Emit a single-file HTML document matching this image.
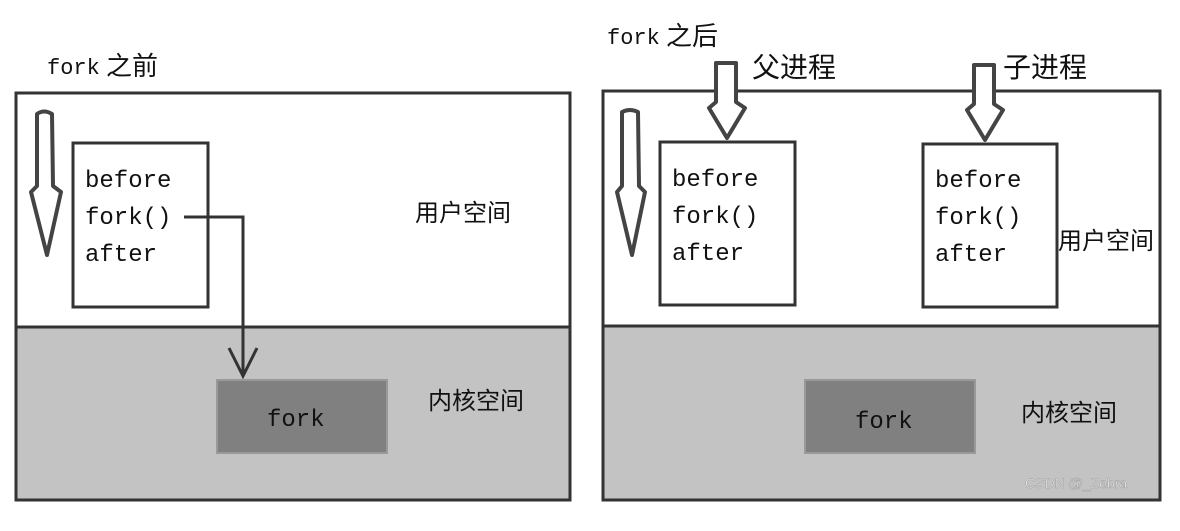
<!DOCTYPE html>
<html><head><meta charset="utf-8"><style>
html,body{margin:0;padding:0;background:#fff;}
svg{display:block;}
.m{font-family:"Liberation Mono","DejaVu Sans Mono",monospace;fill:#111;}
.c{font-family:"Liberation Sans","Noto Sans CJK SC",sans-serif;fill:#111;}
</style></head><body>
<svg width="1180" height="531" viewBox="0 0 1180 531" xmlns="http://www.w3.org/2000/svg">
<!-- LEFT PANEL -->
<rect x="16" y="327" width="554" height="173" fill="#c3c3c3"/>
<rect x="16" y="93" width="554" height="407" fill="none" stroke="#333" stroke-width="3"/>
<line x1="16" y1="327" x2="570" y2="327" stroke="#333" stroke-width="3"/>
<text x="47" y="74" class="m" font-size="22">fork</text>
<text x="106" y="75" class="c" font-size="26">之前</text>
<path d="M37,114 Q44,109 52,114 L53,186 L61,192 L47,255 L31,192 L37,186 Z" fill="#fff" stroke="#444" stroke-width="4" stroke-linejoin="round"/>
<rect x="73" y="143" width="135" height="164" fill="#fff" stroke="#333" stroke-width="3"/>
<text x="85" y="187" class="m" font-size="24">before</text>
<text x="85" y="224" class="m" font-size="24">fork()</text>
<text x="85" y="261" class="m" font-size="24">after</text>
<polyline points="184,217 243,217 243,375" fill="none" stroke="#333" stroke-width="3"/>
<polyline points="229,348 243,376 257,348" fill="none" stroke="#333" stroke-width="3"/>
<rect x="217" y="380" width="170" height="73" fill="#808080" stroke="#999" stroke-width="2"/>
<text x="267" y="426" class="m" font-size="24">fork</text>
<text x="415" y="221" class="c" font-size="24">用户空间</text>
<text x="428" y="409" class="c" font-size="24">内核空间</text>

<!-- RIGHT PANEL -->
<rect x="603" y="326" width="557" height="174" fill="#c3c3c3"/>
<rect x="603" y="91" width="557" height="409" fill="none" stroke="#333" stroke-width="3"/>
<line x1="603" y1="326" x2="1160" y2="326" stroke="#333" stroke-width="3"/>
<text x="607" y="44" class="m" font-size="22">fork</text>
<text x="666" y="45" class="c" font-size="26">之后</text>
<path d="M716,63 L736,63 L736,102 L745,108 L727,138 L709,108 L716,102 Z" fill="#fff" stroke="#444" stroke-width="4" stroke-linejoin="round"/>
<path d="M974,65 L994,65 L994,104 L1003,110 L985,140 L967,110 L974,104 Z" fill="#fff" stroke="#444" stroke-width="4" stroke-linejoin="round"/>
<text x="752" y="77" class="c" font-size="28">父进程</text>
<text x="1003" y="77" class="c" font-size="28">子进程</text>
<path d="M622,112 Q630,108 638,112 L639,186 L645,192 L632,255 L617,192 L622,186 Z" fill="#fff" stroke="#444" stroke-width="4" stroke-linejoin="round"/>
<rect x="660" y="142" width="135" height="163" fill="#fff" stroke="#333" stroke-width="3"/>
<text x="672" y="186" class="m" font-size="24">before</text>
<text x="672" y="223" class="m" font-size="24">fork()</text>
<text x="672" y="260" class="m" font-size="24">after</text>
<rect x="923" y="144" width="134" height="163" fill="#fff" stroke="#333" stroke-width="3"/>
<text x="935" y="187" class="m" font-size="24">before</text>
<text x="935" y="224" class="m" font-size="24">fork()</text>
<text x="935" y="261" class="m" font-size="24">after</text>
<text x="1058" y="249" class="c" font-size="24">用户空间</text>
<rect x="805" y="380" width="170" height="73" fill="#808080" stroke="#999" stroke-width="2"/>
<text x="855" y="428" class="m" font-size="24">fork</text>
<text x="1021" y="421" class="c" font-size="24">内核空间</text>
<text x="1025" y="488" font-family="Liberation Sans,sans-serif" font-size="14" fill="#f2f2f2" stroke="#999" stroke-width="0.5">CSDN @_Zebra</text>
</svg>
</body></html>
